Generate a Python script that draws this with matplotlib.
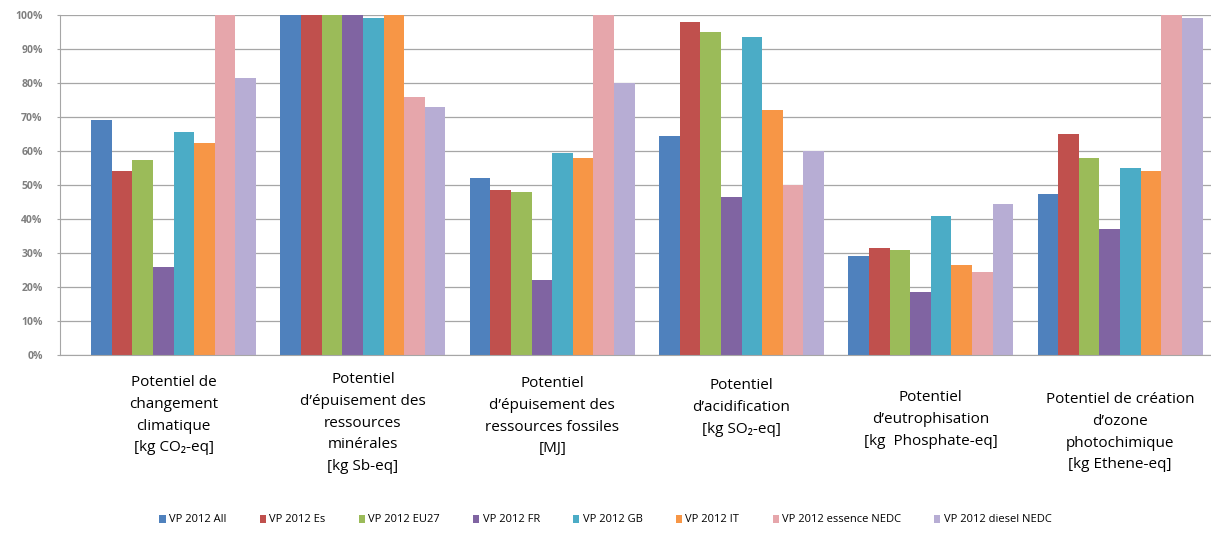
"""Relative impacts of passenger vehicles (VP 2012) per impact category."""

import matplotlib

matplotlib.use("Agg")
import matplotlib.pyplot as plt
import matplotlib.transforms as mtransforms
import numpy as np
from matplotlib.ticker import PercentFormatter

CATEGORIES = [
    "Potentiel de\nchangement\nclimatique\n[kg CO\u2082-eq]",
    "Potentiel\nd\u2019épuisement des\nressources\nminérales\n[kg Sb-eq]",
    "Potentiel\nd\u2019épuisement des\nressources fossiles\n[MJ]",
    "Potentiel\nd\u2019acidification\n[kg SO\u2082-eq]",
    "Potentiel\nd\u2019eutrophisation\n[kg  Phosphate-eq]",
    "Potentiel de création\nd\u2019ozone\nphotochimique\n[kg Ethene-eq]",
]
SERIES = [
    "VP 2012 All",
    "VP 2012 Es",
    "VP 2012 EU27",
    "VP 2012 FR",
    "VP 2012 GB",
    "VP 2012 IT",
    "VP 2012 essence NEDC",
    "VP 2012 diesel NEDC",
]
# values in % of the maximum per category, one list per series
VP_ALL = [69, 100, 52, 64.5, 29, 47.5]
VP_ES = [54, 100, 48.5, 98, 31.5, 65]
VP_EU27 = [57.5, 100, 48, 95, 31, 58]
VP_FR = [26, 100, 22, 46.5, 18.5, 37]
VP_GB = [65.5, 99, 59.5, 93.5, 41, 55]
VP_IT = [62.5, 100, 58, 72, 26.5, 54]
VP_ESSENCE = [100, 76, 100, 50, 24.5, 100]
VP_DIESEL = [81.5, 73, 80, 60, 44.5, 99]
VALUES = [VP_ALL, VP_ES, VP_EU27, VP_FR, VP_GB, VP_IT, VP_ESSENCE, VP_DIESEL]

COLORS = ["#4F81BD", "#C0504D", "#9BBB59", "#8064A2", "#4BACC6", "#F79646", "#E6A6AB", "#B7ADD4"]

plt.rcParams["font.family"] = ["Open Sans", "DejaVu Sans"]

fig = plt.figure(figsize=(12.11, 5.47), dpi=100)
ax = fig.add_axes([60 / 1211, 1 - 355 / 547, 1151 / 1211, 340 / 547])

x = np.arange(len(CATEGORIES))
bar_w = 0.109
for i, (name, vals, color) in enumerate(zip(SERIES, VALUES, COLORS)):
    offset = (i - (len(SERIES) - 1) / 2) * bar_w
    ax.bar(x + offset, vals, width=bar_w, color=color, label=name, zorder=2, linewidth=0)

ax.set_xlim(-0.60, 5.48)
ax.set_ylim(0, 100)
ax.set_yticks(np.arange(0, 101, 10))
ax.yaxis.set_major_formatter(PercentFormatter(decimals=0))
ax.tick_params(axis="y", labelsize=7.5, labelcolor="#7F7F7F", length=2.5, color="#A6A6A6", pad=10)
for lab in ax.get_yticklabels():
    lab.set_fontweight("bold")
ax.set_xticks([])
ax.grid(axis="y", color="#A6A6A6", linewidth=0.9, zorder=0)
for side in ["top", "right"]:
    ax.spines[side].set_visible(False)
for side in ["left", "bottom"]:
    ax.spines[side].set_color("#A6A6A6")

# category labels sit below the axis, x in data units, y in figure units
label_trans = mtransforms.blended_transform_factory(ax.transData, fig.transFigure)
label_top = [375, 372, 376, 378, 390, 392]
for xi, text, top in zip(x, CATEGORIES, label_top):
    ax.text(xi, 1 - top / 547, text, transform=label_trans,
            ha="center", va="top", fontsize=11, linespacing=1.62, color="#000000")

fig.legend(loc="center", bbox_to_anchor=(0.5, 1 - 520 / 547), ncol=8, frameon=False,
           fontsize=8, handlelength=0.55, handleheight=0.7, handletextpad=0.3,
           columnspacing=3.0)

fig.savefig("out.png", dpi=100)
